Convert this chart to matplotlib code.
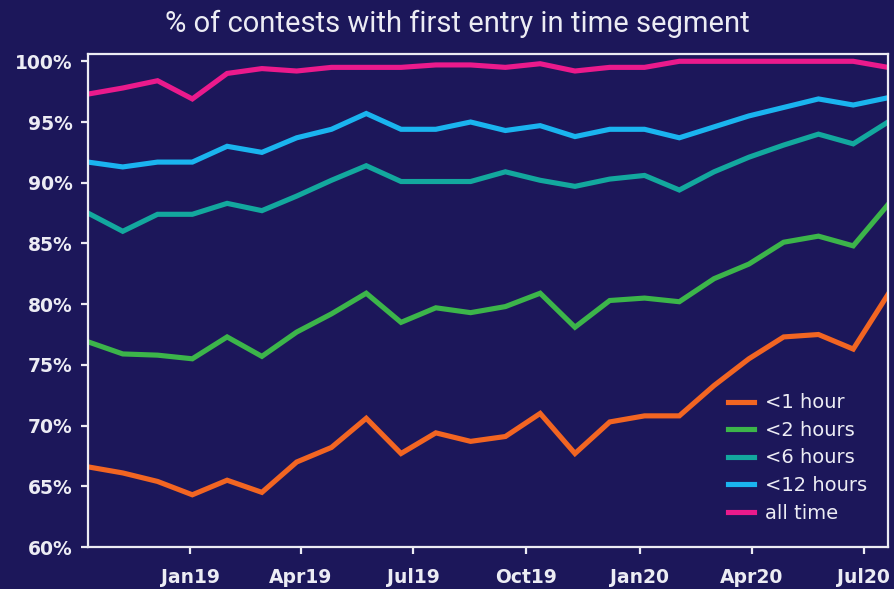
import matplotlib.pyplot as plt
import matplotlib.dates as mdates
import pandas as pd

# roughly four-week reporting periods
periods = pd.date_range("2018-10-10 02:00", periods=24, freq="678h")

under_1h = [66.6, 66.1, 65.4, 64.3, 65.5, 64.5, 67.0, 68.2, 70.6, 67.7, 69.4, 68.7,
            69.1, 71.0, 67.7, 70.3, 70.8, 70.8, 73.3, 75.5, 77.3, 77.5, 76.3, 80.8]
under_2h = [76.9, 75.9, 75.8, 75.5, 77.3, 75.7, 77.7, 79.2, 80.9, 78.5, 79.7, 79.3,
            79.8, 80.9, 78.1, 80.3, 80.5, 80.2, 82.1, 83.3, 85.1, 85.6, 84.8, 88.2]
under_6h = [87.5, 86.0, 87.4, 87.4, 88.3, 87.7, 88.9, 90.2, 91.4, 90.1, 90.1, 90.1,
            90.9, 90.2, 89.7, 90.3, 90.6, 89.4, 90.9, 92.1, 93.1, 94.0, 93.2, 95.0]
under_12h = [91.7, 91.3, 91.7, 91.7, 93.0, 92.5, 93.7, 94.4, 95.7, 94.4, 94.4, 95.0,
             94.3, 94.7, 93.8, 94.4, 94.4, 93.7, 94.6, 95.5, 96.2, 96.9, 96.4, 97.0]
all_time = [97.3, 97.8, 98.4, 96.9, 99.0, 99.4, 99.2, 99.5, 99.5, 99.5, 99.7, 99.7,
            99.5, 99.8, 99.2, 99.5, 99.5, 100.0, 100.0, 100.0, 100.0, 100.0, 100.0, 99.5]

labels = ["<1 hour", "<2 hours", "<6 hours", "<12 hours", "all time"]
colors = ["#f26522", "#3cb54a", "#13a89e", "#1ab4ef", "#ea1a8c"]
series = [under_1h, under_2h, under_6h, under_12h, all_time]

bg = "#1c175a"
fg = "#ececf4"
plt.rcParams["font.family"] = ["DejaVu Sans"]

fig = plt.figure(figsize=(8.95, 5.89), dpi=100, facecolor=bg)
ax = fig.add_axes([0.0983, 0.0713, 0.8939, 0.837], facecolor=bg)

for vals, lab, col in zip(series, labels, colors):
    ax.plot(periods, vals, color=col, lw=3.7, label=lab, solid_joinstyle="miter")

ax.set_xlim(periods[0], periods[-1])
ax.set_ylim(60, 100.6)
ax.set_yticks(range(60, 101, 5))
ax.set_yticklabels([f"{v}%" for v in range(60, 101, 5)])

ax.xaxis.set_major_locator(mdates.MonthLocator(bymonth=[1, 4, 7, 10]))
ax.xaxis.set_major_formatter(mdates.DateFormatter("%b%y"))

for s in ax.spines.values():
    s.set_color(fg)
    s.set_linewidth(1.6)

ax.tick_params(axis="both", colors=fg, width=1.6, length=5, labelsize=13.5)
ax.tick_params(axis="y", pad=6)
ax.tick_params(axis="x", pad=10)
for t in ax.get_xticklabels() + ax.get_yticklabels():
    t.set_fontweight("bold")

leg = ax.legend(loc="lower right", frameon=False, handlelength=1.35, handletextpad=0.55,
                labelspacing=0.44, fontsize=14, bbox_to_anchor=(0.996, 0.014))
for t in leg.get_texts():
    t.set_color(fg)

fig.text(0.511, 0.960, "% of contests with first entry in time segment", color=fg,
         fontsize=21, ha="center", va="center", family="Roboto")

fig.savefig("out.png", dpi=100, facecolor=bg)
